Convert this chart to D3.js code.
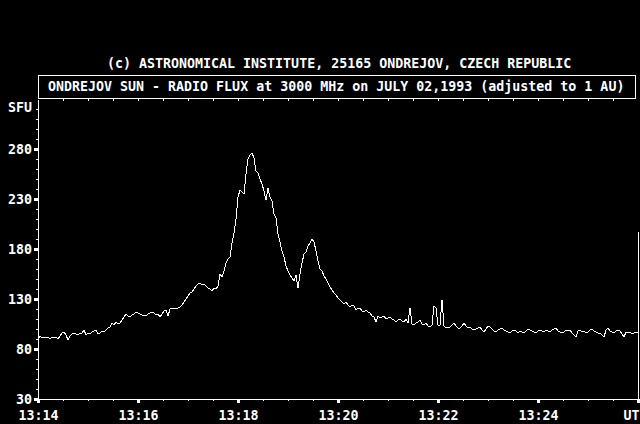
<!DOCTYPE html>
<html>
<head>
<meta charset="utf-8">
<script src="https://cdn.jsdelivr.net/npm/d3@7"></script>
<style>
  html, body { margin: 0; padding: 0; background: #000; }
  svg { display: block; }
  text { font-family: "DejaVu Sans Mono", "Liberation Mono", monospace; font-weight: bold; font-size: 13.3px; fill: #fff; }
</style>
</head>
<body>
<script>
// 13:14 .. 13:26 UT, one sample every 2.4 s (minutes past 13:00)
const sampleStart = 14;
const sampleStep = 0.04;

// flux in SFU
const flux = [
  89, 93, 91, 92, 91, 92, 90, 92, 91, 92,
  90, 93, 96, 97, 94, 89, 93, 95, 96, 95,
  94, 96, 96, 99, 94, 96, 95, 97, 98, 99,
  95, 96, 98, 97, 99, 101, 102, 106, 104, 107,
  105, 106, 109, 112, 115, 113, 112, 114, 115, 117,
  116, 115, 114, 114, 113, 115, 116, 117, 116, 114,
  115, 112, 115, 118, 119, 113, 120, 121, 121, 120,
  121, 122, 124, 127, 130, 133, 136, 137, 140, 143,
  145, 146, 144, 145, 143, 141, 140, 138, 141, 140,
  143, 155, 152, 158, 166, 170, 172, 186, 196, 210,
  232, 239, 237, 235, 255, 270, 274, 276, 271, 258,
  256, 250, 245, 238, 229, 241, 232, 228, 215, 211,
  195, 187, 178, 172, 163, 158, 154, 151, 148, 154,
  141, 155, 166, 175, 177, 183, 186, 190, 187, 178,
  168, 160, 158, 153, 150, 146, 142, 139, 136, 134,
  131, 129, 127, 125, 127, 124, 122, 124, 123, 119,
  121, 121, 118, 117, 119, 117, 116, 113, 112, 107,
  113, 111, 112, 113, 110, 111, 112, 110, 109, 107,
  109, 110, 108, 107, 110, 106, 121, 105, 104, 106,
  107, 109, 105, 104, 106, 103, 102, 104, 123, 121,
  104, 104, 129, 103, 101, 102, 102, 104, 106, 103,
  101, 101, 103, 106, 103, 101, 102, 100, 99, 100,
  101, 102, 99, 97, 100, 103, 102, 100, 98, 97,
  99, 100, 101, 99, 98, 97, 96, 98, 99, 98,
  96, 98, 97, 96, 98, 100, 99, 98, 97, 96,
  98, 99, 98, 97, 99, 98, 97, 99, 100, 101,
  98, 97, 96, 97, 99, 98, 99, 96, 94, 92,
  98, 99, 97, 98, 96, 97, 99, 100, 98, 97,
  96, 96, 94, 92, 99, 101, 98, 97, 96, 98,
  99, 98, 95, 92, 97, 96, 97, 95, 96, 97,
  96
];

const yTicks = [30, 80, 130, 180, 230, 280];
const yMinorTicks = [40, 50, 60, 70, 90, 100, 110, 120, 140, 150, 160, 170, 190, 200, 210, 220, 240, 250, 260, 270, 290, 300, 310, 320];
const xTicks = [14, 16, 18, 20, 22, 24, 26];
const xTickLabels = ["13:14", "13:16", "13:18", "13:20", "13:22", "13:24", "UT"];
const xMinorTicks = [14.5, 15, 15.5, 16.5, 17, 17.5, 18.5, 19, 19.5, 20.5, 21, 21.5, 22.5, 23, 23.5, 24.5, 25, 25.5];

const credit = "(c) ASTRONOMICAL INSTITUTE, 25165 ONDREJOV, CZECH REPUBLIC";
const title = "ONDREJOV SUN - RADIO FLUX at 3000 MHz on JULY 02,1993 (adjusted to 1 AU)";

const width = 640, height = 424;
const plotLeft = 38, plotRight = 638, plotTop = 99, plotBottom = 399;

const svg = d3.select("body").append("svg")
    .attr("width", width)
    .attr("height", height)
    .style("background", "#000");

const x = d3.scaleLinear().domain([14, 26]).range([plotLeft, plotRight]);
const y = d3.scaleLinear().domain([30, 330]).range([plotBottom, plotTop]);

// headings
svg.append("text")
    .attr("x", 107)
    .attr("y", 68)
    .text(credit);

svg.append("rect")
    .attr("x", plotLeft + 0.5)
    .attr("y", 75.5)
    .attr("width", 597)
    .attr("height", 23)
    .attr("fill", "none")
    .attr("stroke", "#fff")
    .attr("shape-rendering", "crispEdges");

svg.append("text")
    .attr("x", 48)
    .attr("y", 91)
    .text(title);

svg.append("text")
    .attr("x", 32)
    .attr("y", 112)
    .attr("text-anchor", "end")
    .text("SFU");

// y axis
const yAxis = svg.append("g")
    .attr("transform", `translate(${plotLeft},0)`)
    .call(d3.axisLeft(y).tickValues(yTicks).tickSize(4).tickSizeOuter(0).tickPadding(2));

svg.append("g")
    .attr("transform", `translate(${plotLeft},0)`)
    .call(d3.axisLeft(y).tickValues(yMinorTicks).tickSize(2).tickFormat(""))
    .select(".domain").remove();

// x axis
const xAxis = svg.append("g")
    .attr("transform", `translate(0,${plotBottom})`)
    .call(d3.axisBottom(x).tickValues(xTicks).tickSize(4).tickSizeOuter(0).tickPadding(8)
        .tickFormat((d, i) => xTickLabels[i]));

svg.append("g")
    .attr("transform", `translate(0,${plotBottom})`)
    .call(d3.axisBottom(x).tickValues(xMinorTicks).tickSize(2).tickFormat(""))
    .select(".domain").remove();

svg.append("g")
    .attr("transform", `translate(0,${plotTop})`)
    .call(d3.axisTop(x).tickValues(xMinorTicks.concat([16, 18, 20, 22, 24])).tickSize(-2).tickFormat(""))
    .select(".domain").remove();

xAxis.selectAll(".tick text")
    .filter(d => d === 26)
    .attr("text-anchor", "end")
    .attr("dx", 1);

svg.selectAll(".domain, .tick line")
    .attr("stroke", "#fff")
    .attr("shape-rendering", "crispEdges");

yAxis.selectAll(".tick line").attr("stroke-width", 3);
xAxis.selectAll(".tick line").attr("stroke-width", 3);
svg.selectAll(".tick text").attr("fill", "#fff");
svg.selectAll("g").attr("font-size", null).attr("font-family", null);

// partial right border
svg.append("line")
    .attr("x1", plotRight + 0.5).attr("x2", plotRight + 0.5)
    .attr("y1", 232).attr("y2", plotBottom)
    .attr("stroke", "#fff")
    .attr("shape-rendering", "crispEdges");

// flux trace
const line = d3.line()
    .x((d, i) => x(sampleStart + i * sampleStep))
    .y(d => y(d));

svg.append("path")
    .datum(flux)
    .attr("d", line)
    .attr("fill", "none")
    .attr("stroke", "#fff")
    .attr("stroke-width", 1)
    .attr("shape-rendering", "crispEdges");
</script>
</body>
</html>
